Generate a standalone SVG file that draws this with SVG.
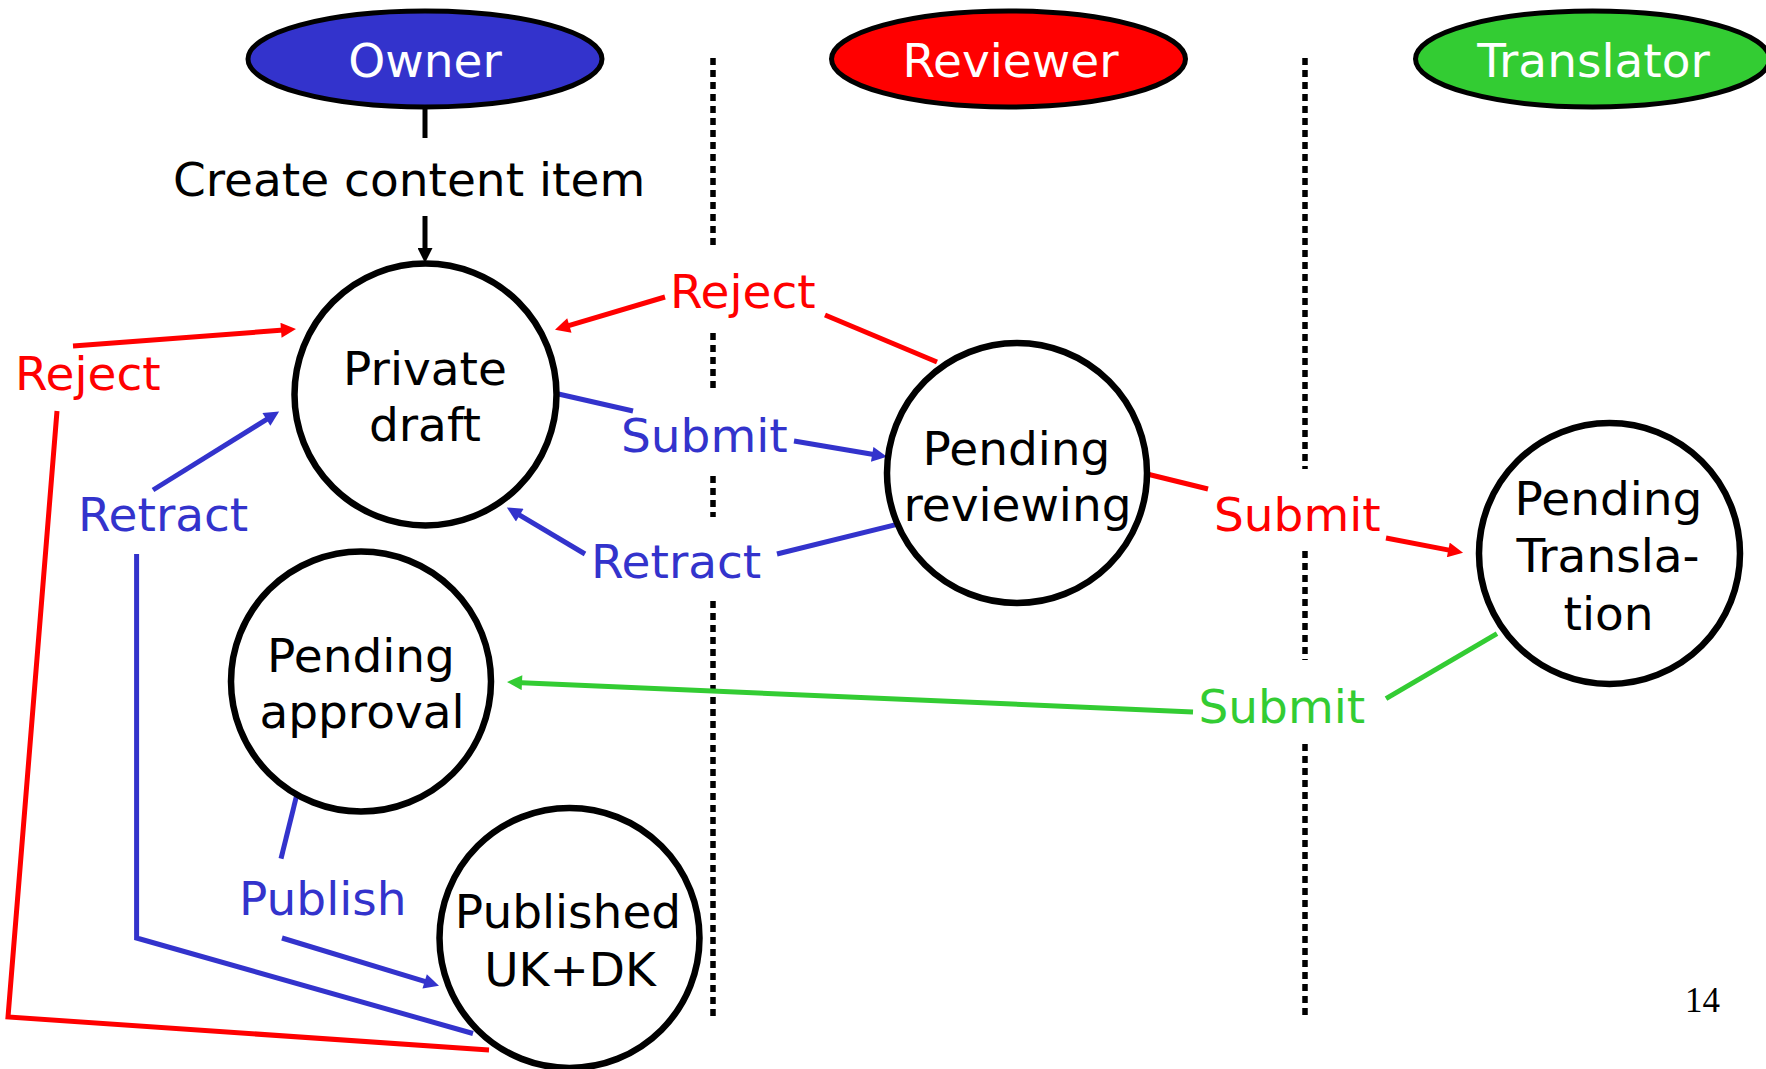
<svg xmlns="http://www.w3.org/2000/svg" width="1766" height="1069" viewBox="0 0 1766 1069">
<style>
text{font-family:"DejaVu Sans","Verdana",sans-serif;font-size:47px}
.role{fill:#fff;text-anchor:middle}
.state{fill:#000;text-anchor:middle}
.role-shape{stroke:#000;stroke-width:5}
.state-shape{fill:#fff;stroke:#000;stroke-width:6.5}
.lane{stroke:#000;stroke-width:5.5;stroke-dasharray:7 5;fill:none}
.c{fill:none;stroke-width:5;stroke-linejoin:miter}
.blue{stroke:#3333CC}
.red{stroke:#FF0000}
.green{stroke:#33CC33}
.black{stroke:#000}
.lb{fill:#3333CC}
.lr{fill:#FF0000}
.lg{fill:#33CC33}
</style>
<defs>
<marker id="ab" viewBox="0 0 10 10" refX="4" refY="5" markerWidth="17" markerHeight="15" markerUnits="userSpaceOnUse" orient="auto"><path d="M0,0 L10,5 L0,10 z" fill="#3333CC"/></marker>
<marker id="ar" viewBox="0 0 10 10" refX="4" refY="5" markerWidth="17" markerHeight="15" markerUnits="userSpaceOnUse" orient="auto"><path d="M0,0 L10,5 L0,10 z" fill="#FF0000"/></marker>
<marker id="ag" viewBox="0 0 10 10" refX="4" refY="5" markerWidth="17" markerHeight="15" markerUnits="userSpaceOnUse" orient="auto"><path d="M0,0 L10,5 L0,10 z" fill="#33CC33"/></marker>
<marker id="ak" viewBox="0 0 10 10" refX="4" refY="5" markerWidth="17" markerHeight="15" markerUnits="userSpaceOnUse" orient="auto"><path d="M0,0 L10,5 L0,10 z" fill="#000"/></marker>
</defs>
<rect width="1766" height="1069" fill="#fff"/>

<g id="lanes">
<path class="lane" d="M713,58V249M713,333V393M713,476V517M713,601V1018"/>
<path class="lane" d="M1305,58V469M1305,551V660M1305,744V1018"/>
</g>

<g id="connectors">
<path class="c black" d="M425,107V138"/>
<path class="c black" d="M425,216V254" marker-end="url(#ak)"/>
<path class="c red" d="M489,1050L8,1017L57,411"/>
<path class="c red" d="M73,346L287,329.8" marker-end="url(#ar)"/>
<path class="c blue" d="M153,490L271.5,416.3" marker-end="url(#ab)"/>
<path class="c red" d="M937,362L825,315"/>
<path class="c red" d="M665,297L563.6,327.2" marker-end="url(#ar)"/>
<path class="c blue" d="M554,393L633,411"/>
<path class="c blue" d="M794,441L878.1,455.3" marker-end="url(#ab)"/>
<path class="c blue" d="M904,522.6L777,554"/>
<path class="c blue" d="M585,554L514.6,512.1" marker-end="url(#ab)"/>
<path class="c red" d="M1147,474L1208,489"/>
<path class="c red" d="M1386,538L1454.2,551.1" marker-end="url(#ar)"/>
<path class="c green" d="M1497,633.6L1386,698.6"/>
<path class="c green" d="M1193,712L516,682.4" marker-end="url(#ag)"/>
<path class="c blue" d="M297,794L281,858.6"/>
<path class="c blue" d="M282,938L430.4,983.1" marker-end="url(#ab)"/>
<path class="c blue" d="M136.6,554V938L473,1033.5"/>
</g>

<g id="labels">
<text class="lb" x="621" y="451.6">Submit</text>
<text class="lr" x="670" y="308">Reject</text>
<text class="lr" x="15" y="390">Reject</text>
<text class="lb" x="78" y="531">Retract</text>
<text class="lb" x="591" y="578">Retract</text>
<text class="lr" x="1214" y="531">Submit</text>
<text class="lg" x="1198.5" y="722.7">Submit</text>
<text class="lb" x="239" y="915">Publish</text>
<text x="173" y="196" fill="#000">Create content item</text>
</g>

<g id="role-owner">
<ellipse class="role-shape" cx="425" cy="59" rx="177" ry="48" fill="#3333CC"/>
<text class="role" x="425" y="76.5">Owner</text>
</g>
<g id="role-reviewer">
<ellipse class="role-shape" cx="1008.5" cy="59" rx="177" ry="48" fill="#FF0000"/>
<text class="role" x="1010.5" y="76.5">Reviewer</text>
</g>
<g id="role-translator">
<ellipse class="role-shape" cx="1592.5" cy="59" rx="177" ry="48" fill="#33CC33"/>
<text class="role" x="1593.5" y="76.5">Translator</text>
</g>

<g id="state-private-draft">
<circle class="state-shape" cx="425.5" cy="394.5" r="131"/>
<text class="state" x="425" y="385">Private</text>
<text class="state" x="425" y="441">draft</text>
</g>
<g id="state-pending-reviewing">
<circle class="state-shape" cx="1017" cy="473" r="130"/>
<text class="state" x="1016.5" y="465">Pending</text>
<text class="state" x="1017.5" y="520.5">reviewing</text>
</g>
<g id="state-pending-translation">
<circle class="state-shape" cx="1609.5" cy="553.5" r="130.5"/>
<text class="state" x="1608.5" y="515">Pending</text>
<text class="state" x="1608" y="572">Transla-</text>
<text class="state" x="1608.5" y="630">tion</text>
</g>
<g id="state-pending-approval">
<circle class="state-shape" cx="361" cy="681.5" r="130"/>
<text class="state" x="361" y="672">Pending</text>
<text class="state" x="362" y="728">approval</text>
</g>
<g id="state-published">
<circle class="state-shape" cx="569.5" cy="938" r="130"/>
<text class="state" x="568" y="928">Published</text>
<text class="state" x="570" y="985.6">UK+DK</text>
</g>

<text x="1685" y="1011.6" style="font-family:'Liberation Serif','Times New Roman',serif;font-size:35px" fill="#000">14</text>
</svg>
